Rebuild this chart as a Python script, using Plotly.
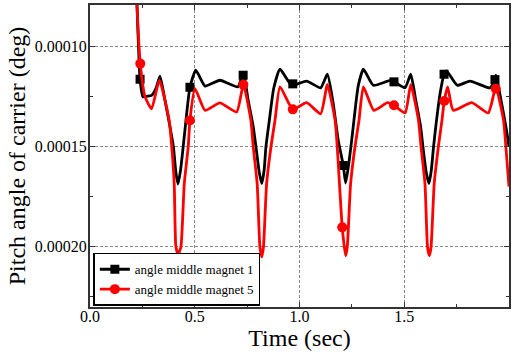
import plotly.graph_objects as go

# ---- data ----
t_black = [0.21, 0.2245, 0.239, 0.253, 0.272, 0.294, 0.315, 0.334, 0.358, 0.385, 0.398, 0.41, 0.42,
           0.432, 0.445, 0.458, 0.477, 0.505, 0.549, 0.62, 0.706, 0.732, 0.755, 0.779, 0.792, 0.808,
           0.82, 0.831, 0.840, 0.856, 0.877, 0.907, 0.963, 1.034, 1.101, 1.133, 1.16, 1.185, 1.209,
           1.22, 1.232, 1.249, 1.262, 1.28, 1.305, 1.352, 1.43, 1.451, 1.504, 1.531, 1.555, 1.578,
           1.589, 1.605, 1.618, 1.629, 1.64, 1.654, 1.672, 1.69, 1.702, 1.753, 1.814, 1.909, 1.933,
           1.938, 1.962, 1.985, 2.0]
v_black = [0.00003, 0.00008, 0.0001165, 0.0001253, 0.000125, 0.0001245, 0.000121, 0.000115, 0.000127,
           0.000142, 0.00015, 0.000163, 0.0001687, 0.000162, 0.00015, 0.000137, 0.0001205, 0.000112,
           0.0001199, 0.000117, 0.0001203, 0.0001133, 0.000127, 0.00014, 0.00015, 0.000163, 0.0001685,
           0.000162, 0.00015, 0.000137, 0.000121, 0.0001115, 0.0001195, 0.0001174, 0.0001208, 0.000114,
           0.000128, 0.000147, 0.0001595, 0.0001682, 0.000161, 0.000147, 0.000135, 0.00012, 0.0001115,
           0.0001195, 0.0001172, 0.0001178, 0.0001207, 0.000114, 0.000127, 0.00014, 0.00015, 0.000163,
           0.0001685, 0.000162, 0.00015, 0.000137, 0.000123, 0.000114, 0.0001123, 0.0001195, 0.0001174,
           0.0001208, 0.0001167, 0.0001145, 0.000127, 0.00014, 0.00015]

t_red = [0.21, 0.2245, 0.24, 0.263, 0.294, 0.331, 0.378, 0.39, 0.402, 0.41, 0.421, 0.434, 0.45, 0.469,
         0.477, 0.501, 0.549, 0.62, 0.70, 0.732, 0.768, 0.779, 0.798, 0.811, 0.82, 0.828, 0.843, 0.864,
         0.883, 0.907, 0.968, 1.034, 1.101, 1.133, 1.17, 1.18, 1.204, 1.22, 1.228, 1.244, 1.265, 1.284,
         1.305, 1.355, 1.42, 1.451, 1.504, 1.531, 1.568, 1.58, 1.599, 1.611, 1.62, 1.628, 1.643, 1.663,
         1.68, 1.691, 1.707, 1.734, 1.822, 1.901, 1.937, 1.974, 1.985, 2.0]
v_red = [0.00003, 0.00008, 0.0001087, 0.0001253, 0.0001312, 0.000117, 0.000137, 0.00015, 0.0001685,
         0.0002, 0.0002037, 0.0002, 0.0001685, 0.00015, 0.000137, 0.0001212, 0.000132, 0.0001283,
         0.0001328, 0.0001192, 0.000137, 0.00015, 0.0001685, 0.0002, 0.000205, 0.0002, 0.0001685,
         0.00015, 0.000137, 0.0001203, 0.0001315, 0.0001282, 0.0001337, 0.0001192, 0.000137, 0.00015,
         0.0001903, 0.0002045, 0.0002, 0.0001685, 0.00015, 0.000137, 0.0001203, 0.000132, 0.0001282,
         0.0001295, 0.0001333, 0.0001192, 0.000137, 0.00015, 0.0001685, 0.0002, 0.0002045, 0.0002,
         0.0001685, 0.00015, 0.000137, 0.0001273, 0.0001203, 0.000132, 0.0001282, 0.0001333, 0.0001205,
         0.000137, 0.00015, 0.00017]

mark_t_black = [0.239, 0.477, 0.731, 0.968, 1.209, 1.451, 1.69, 1.933]
mark_v_black = [0.0001165, 0.0001205, 0.0001145, 0.0001188, 0.0001595, 0.0001178, 0.000114, 0.0001167]
mark_t_red = [0.24, 0.477, 0.732, 0.968, 1.204, 1.451, 1.691, 1.937]
mark_v_red = [0.0001087, 0.000137, 0.0001192, 0.0001315, 0.0001903, 0.0001295, 0.0001273, 0.0001212]

names = ["angle middle magnet 1", "angle middle magnet 5"]
x_ticks = [0.0, 0.5, 1.0, 1.5, 2.0]
y_ticks = [0.00010, 0.00015, 0.00020]

FONT = "Liberation Serif"
fig = go.Figure()

series = [
    (t_black, v_black, mark_t_black, mark_v_black, "black", "square", names[0]),
    (t_red, v_red, mark_t_red, mark_v_red, "#ff0000", "circle", names[1]),
]
for t, v, mt, mv, col, sym, nm in series:
    fig.add_trace(go.Scatter(x=t, y=v, mode="lines", showlegend=False,
                             line=dict(color=col, width=2.8, shape="spline", smoothing=0.5)))
    fig.add_trace(go.Scatter(x=mt, y=mv, mode="markers", showlegend=False,
                             marker=dict(color=col, symbol=sym, size=9 if sym == "square" else 10)))
for t, v, mt, mv, col, sym, nm in series:
    fig.add_trace(go.Scatter(x=[None], y=[None], mode="lines+markers", name=nm,
                             line=dict(color=col, width=2.8),
                             marker=dict(color=col, symbol=sym, size=9 if sym == "square" else 10)))

axis_common = dict(
    showline=True, linecolor="#333333", linewidth=2, mirror="allticks",
    ticks="inside", ticklen=5, tickwidth=1, tickcolor="#333333",
    showgrid=True, gridcolor="#888888", gridwidth=1, griddash="3px,2px",
    zeroline=False, automargin=False,
    tickfont=dict(family=FONT, size=16, color="black"),
)

fig.update_xaxes(range=[0, 2.0], tickvals=x_ticks, tickformat=".1f", ticklabelstandoff=-6,
                 title=dict(text="Time (sec)", font=dict(family=FONT, size=24, color="black"), standoff=2),
                 minor=dict(dtick=0.25, tick0=0, ticks="inside", ticklen=3, tickcolor="#333333", showgrid=False),
                 **axis_common)
fig.update_yaxes(range=[0.00023, 0.0000795], tickvals=y_ticks, tickformat=".5f", ticklabelstandoff=-2,
                 title=dict(text="Pitch angle of carrier (deg)", font=dict(family=FONT, size=24, color="black"), standoff=2),
                 minor=dict(dtick=0.000025, tick0=0.0001, ticks="inside", ticklen=3, tickcolor="#333333", showgrid=False),
                 **axis_common)

fig.update_layout(
    width=518, height=356,
    margin=dict(l=90, r=9, t=5, b=49),
    paper_bgcolor="white", plot_bgcolor="white",
    font=dict(family=FONT, color="black"),
    legend=dict(x=0.008, y=0.004, xanchor="left", yanchor="bottom",
                bgcolor="white", bordercolor="black", borderwidth=1.5,
                font=dict(family=FONT, size=13, color="black"),
                tracegroupgap=0, itemwidth=30),
)

fig.write_html("out.html", config={"displayModeBar": False},
               post_script="document.body.style.margin='0px';")
